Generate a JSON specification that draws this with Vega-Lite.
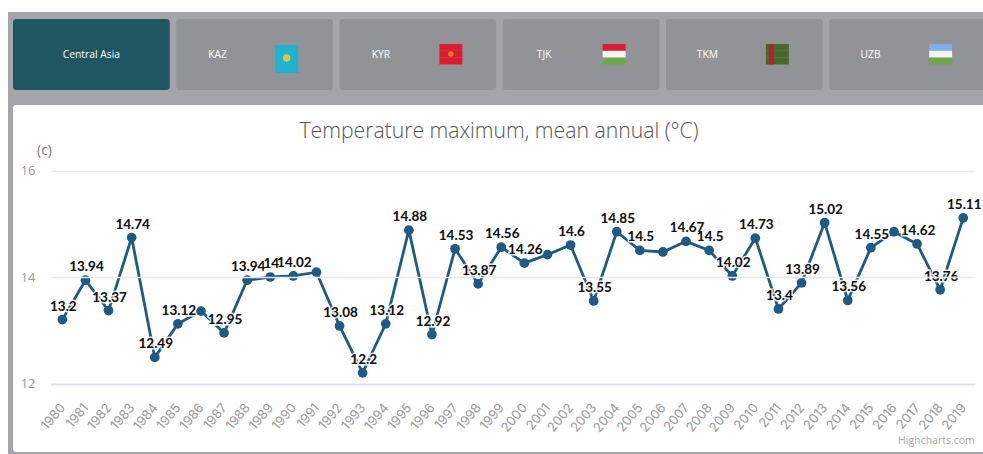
{
"$schema":"https://vega.github.io/schema/vega-lite/v6.json",
"width":983,"height":454,"padding":0,"autosize":{"type":"fit","contains":"padding"},
"background":"#ffffff",
"config":{"view":{"stroke":null},"font":"Inter"},
"datasets":{
"frame":[{"part":"frame"}],
"panel":[{"part":"panel"}],
"tabs":[{"tab":"Central Asia","state":"active","row":"tabs"},{"tab":"KAZ","state":"idle","row":"tabs"},{"tab":"KYR","state":"idle","row":"tabs"},{"tab":"TJK","state":"idle","row":"tabs"},{"tab":"TKM","state":"idle","row":"tabs"},{"tab":"UZB","state":"idle","row":"tabs"}],
"stripes":[
{"tab":"KYR","stripe":"top","hue":"red"},{"tab":"KYR","stripe":"mid","hue":"red"},{"tab":"KYR","stripe":"bot","hue":"red"},
{"tab":"TJK","stripe":"top","hue":"red"},{"tab":"TJK","stripe":"mid","hue":"white"},{"tab":"TJK","stripe":"bot","hue":"green"},
{"tab":"TKM","stripe":"top","hue":"olive"},{"tab":"TKM","stripe":"mid","hue":"olive"},{"tab":"TKM","stripe":"bot","hue":"olive"},
{"tab":"UZB","stripe":"top","hue":"blue"},{"tab":"UZB","stripe":"mid","hue":"white"},{"tab":"UZB","stripe":"bot","hue":"green"}],
"series":[
{"year":1980,"temp":13.2,"label":"13.2"},{"year":1981,"temp":13.94,"label":"13.94"},{"year":1982,"temp":13.37,"label":"13.37"},{"year":1983,"temp":14.74,"label":"14.74"},{"year":1984,"temp":12.49,"label":"12.49"},{"year":1985,"temp":13.12,"label":"13.12"},{"year":1986,"temp":13.36},{"year":1987,"temp":12.95,"label":"12.95"},{"year":1988,"temp":13.94,"label":"13.94"},{"year":1989,"temp":14,"label":"14"},{"year":1990,"temp":14.02,"label":"14.02"},{"year":1991,"temp":14.09},{"year":1992,"temp":13.08,"label":"13.08"},{"year":1993,"temp":12.2,"label":"12.2"},{"year":1994,"temp":13.12,"label":"13.12"},{"year":1995,"temp":14.88,"label":"14.88"},{"year":1996,"temp":12.92,"label":"12.92"},{"year":1997,"temp":14.53,"label":"14.53"},{"year":1998,"temp":13.87,"label":"13.87"},{"year":1999,"temp":14.56,"label":"14.56"},{"year":2000,"temp":14.26,"label":"14.26"},{"year":2001,"temp":14.42},{"year":2002,"temp":14.6,"label":"14.6"},{"year":2003,"temp":13.55,"label":"13.55"},{"year":2004,"temp":14.85,"label":"14.85"},{"year":2005,"temp":14.5,"label":"14.5"},{"year":2006,"temp":14.47},{"year":2007,"temp":14.67,"label":"14.67"},{"year":2008,"temp":14.5,"label":"14.5"},{"year":2009,"temp":14.02,"label":"14.02"},{"year":2010,"temp":14.73,"label":"14.73"},{"year":2011,"temp":13.4,"label":"13.4"},{"year":2012,"temp":13.89,"label":"13.89"},{"year":2013,"temp":15.02,"label":"15.02"},{"year":2014,"temp":13.56,"label":"13.56"},{"year":2015,"temp":14.55,"label":"14.55"},{"year":2016,"temp":14.85},{"year":2017,"temp":14.62,"label":"14.62"},{"year":2018,"temp":13.76,"label":"13.76"},{"year":2019,"temp":15.11,"label":"15.11"}],
"heading":[{"text":"Temperature maximum, mean annual (°C)","year":1998.9,"temp":16.73}],
"credit":[{"text":"Highcharts.com","year":2019.5,"temp":10.92}]
},
"layer":[
{"data":{"name":"frame"},"mark":{"type":"rect","color":"#a4a5a9"},
 "encoding":{"x":{"field":"part","type":"nominal","axis":null,"scale":{"type":"band","range":[8,983],"paddingInner":0,"paddingOuter":0}},
 "y":{"field":"part","type":"nominal","axis":null,"scale":{"type":"band","range":[12,454],"paddingInner":0,"paddingOuter":0}}}},
{"data":{"name":"panel"},"mark":{"type":"rect","color":"#ffffff","cornerRadius":3},
 "encoding":{"x":{"field":"part","type":"nominal","axis":null,"scale":{"type":"band","range":[13,990],"paddingInner":0,"paddingOuter":0}},
 "y":{"field":"part","type":"nominal","axis":null,"scale":{"type":"band","range":[105,452],"paddingInner":0,"paddingOuter":0}}}},
{"encoding":{"x":{"field":"tab","type":"nominal","sort":null,"axis":null,"scale":{"type":"band","domain":["Central Asia","KAZ","KYR","TJK","TKM","UZB"],"range":[13,986],"paddingInner":0.04,"paddingOuter":0}}},
 "resolve":{"scale":{"y":"independent","color":"independent"}},
 "layer":[
 {"data":{"name":"tabs"},"mark":{"type":"rect","cornerRadius":3},
  "encoding":{"y":{"field":"row","type":"nominal","axis":null,"scale":{"type":"band","range":[19,90],"paddingInner":0,"paddingOuter":0}},
  "color":{"field":"state","type":"nominal","legend":null,"scale":{"domain":["active","idle"],"range":["#1e5662","#929396"]}}}},
 {"data":{"name":"tabs"},"transform":[{"filter":"datum.state=='active'"}],"mark":{"type":"text","color":"#ffffff","fontSize":10.3,"font":"Open Sans"},
  "encoding":{"text":{"field":"tab"},"y":{"field":"row","type":"nominal","axis":null,"scale":{"type":"band","range":[19,90],"paddingInner":0,"paddingOuter":0}}}},
 {"data":{"name":"tabs"},"transform":[{"filter":"datum.state!='active'"}],"mark":{"type":"text","color":"#ffffff","fontSize":10.3,"font":"Open Sans","dx":-37},
  "encoding":{"text":{"field":"tab"},"y":{"field":"row","type":"nominal","axis":null,"scale":{"type":"band","range":[19,90],"paddingInner":0,"paddingOuter":0}}}},
 {"data":{"name":"stripes"},"mark":{"type":"rect","width":23,"xOffset":33},
  "encoding":{"y":{"field":"stripe","type":"nominal","axis":null,"scale":{"type":"band","domain":["top","mid","bot"],"range":[44,64.5],"paddingInner":0,"paddingOuter":0}},
  "color":{"field":"hue","type":"nominal","legend":null,"scale":{"domain":["red","white","green","olive","blue"],"range":["#dc1c30","#f4f4f4","#6fa84a","#47692e","#7fb0ec"]}}}},
 {"data":{"values":[{"tab":"KAZ","stripe":"all"}]},"mark":{"type":"rect","width":23,"xOffset":32,"color":"#1fb3cf"},
  "encoding":{"y":{"field":"stripe","type":"nominal","axis":null,"scale":{"type":"band","range":[45,73],"paddingInner":0,"paddingOuter":0}}}},
 {"data":{"values":[{"tab":"KAZ","stripe":"all"}]},"mark":{"type":"point","filled":true,"size":55,"xOffset":32,"color":"#e5c63a","opacity":1},
  "encoding":{"y":{"field":"stripe","type":"nominal","axis":null,"scale":{"type":"band","range":[50,66],"paddingInner":0,"paddingOuter":0}}}},
 {"data":{"values":[{"tab":"KYR","stripe":"all"}]},"mark":{"type":"point","filled":true,"size":30,"xOffset":33,"color":"#ee7a20","opacity":1},
  "encoding":{"y":{"field":"stripe","type":"nominal","axis":null,"scale":{"type":"band","range":[44,64],"paddingInner":0,"paddingOuter":0}}}},
 {"data":{"values":[{"tab":"TKM","stripe":"all"}]},"mark":{"type":"rect","width":5,"xOffset":27,"color":"#b5202a"},
  "encoding":{"y":{"field":"stripe","type":"nominal","axis":null,"scale":{"type":"band","range":[44,64.5],"paddingInner":0,"paddingOuter":0}}}}
 ]},
{"encoding":{
  "x":{"field":"year","type":"quantitative","title":null,"scale":{"domain":[1979.5,2019.5],"range":[50.8,974.8],"nice":false,"zero":false},
   "axis":{"zindex":1,"offset":-70,"values":[1980,1981,1982,1983,1984,1985,1986,1987,1988,1989,1990,1991,1992,1993,1994,1995,1996,1997,1998,1999,2000,2001,2002,2003,2004,2005,2006,2007,2008,2009,2010,2011,2012,2013,2014,2015,2016,2017,2018,2019],"format":"d","grid":false,"ticks":false,"domain":true,"domainColor":"#d8e0f2","domainWidth":1.5,"labelAngle":-50,"labelAlign":"right","labelBaseline":"middle","labelPadding":21,"labelFontSize":13,"labelColor":"#999999","labelFont":"Inter","labelOverlap":false,"labelFlush":false}},
  "y":{"field":"temp","type":"quantitative","title":"(c)","scale":{"domain":[12,16],"range":[383.5,170.5],"nice":false,"zero":false},
   "axis":{"zindex":1,"offset":-50,"values":[12,14,16],"grid":true,"gridColor":"#e8e8e8","gridWidth":1.5,"ticks":false,"domain":false,"labelPadding":15,"labelFontSize":13,"labelColor":"#999999","labelFont":"Open Sans","titleAngle":0,"titleX":-6,"titleY":157,"titleFontSize":14,"titleFontWeight":"normal","titleColor":"#777777","titleFont":"Open Sans"}}},
 "layer":[
 {"data":{"name":"series"},"mark":{"type":"line","color":"#1f5a85","strokeWidth":2.8}},
 {"data":{"name":"series"},"mark":{"type":"point","filled":true,"color":"#1f5a85","size":95,"opacity":1}},
 {"data":{"name":"series"},"transform":[{"filter":"isValid(datum.label)"}],"mark":{"type":"text","dy":-13,"dx":1,"font":"Lato","fontSize":13.5,"fontWeight":"bold","stroke":"#ffffff","strokeWidth":3,"strokeOpacity":0.85},"encoding":{"text":{"field":"label"}}},
 {"data":{"name":"series"},"transform":[{"filter":"isValid(datum.label)"}],"mark":{"type":"text","dy":-13,"dx":1,"font":"Lato","fontSize":13.5,"fontWeight":"bold","color":"#111111"},"encoding":{"text":{"field":"label"}}},
 {"data":{"name":"heading"},"mark":{"type":"text","font":"Open Sans","fontSize":21.2,"fontWeight":300,"color":"#555555"},"encoding":{"text":{"field":"text"}}},
 {"data":{"name":"credit"},"mark":{"type":"text","align":"right","font":"Open Sans","fontSize":10.5,"color":"#a8a8a8"},"encoding":{"text":{"field":"text"}}}
 ]}
],
"resolve":{"scale":{"x":"independent","y":"independent","color":"independent"}}
}
